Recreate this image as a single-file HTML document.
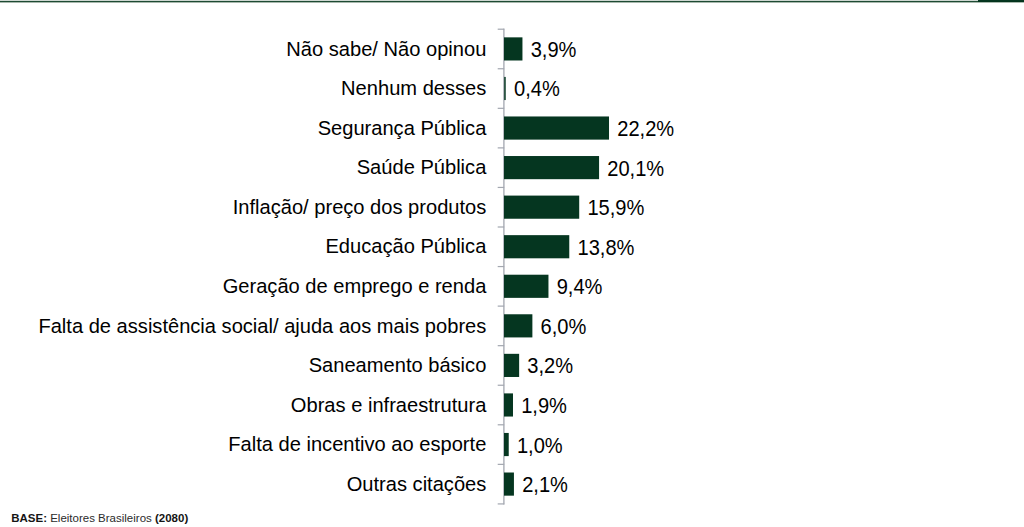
<!DOCTYPE html>
<html><head><meta charset="utf-8"><style>
html,body{margin:0;padding:0;}
body{width:1024px;height:527px;overflow:hidden;background:#fff;position:relative;font-family:"Liberation Sans",sans-serif;color:#000;}
svg{position:absolute;left:0;top:0;}
.lab,.val{position:absolute;font-size:20.1px;line-height:20px;white-space:nowrap;}
.val{transform:scaleY(1.07);transform-origin:0 17.0px;}
.lab{right:537.70px;text-align:right;transform:scaleY(1.0);transform-origin:100% 17.0px;}
.foot{position:absolute;left:11.2px;top:512.40px;font-size:11.5px;line-height:12px;white-space:nowrap;color:#2b2b2b;transform:scaleY(0.97);transform-origin:0 9.8px;}
.foot b{color:#151515;}
</style></head><body>
<svg width="1024" height="527" viewBox="0 0 1024 527">
<rect x="0" y="0" width="978" height="1" fill="#cfd8d2"/>
<rect x="978" y="0" width="46" height="1" fill="#053620"/>
<rect x="0" y="1" width="978" height="1" fill="#1d4b33"/>
<rect x="978" y="1" width="46" height="1" fill="#03331c"/>
<rect x="0" y="2" width="1024" height="1" fill="#a8b8ad"/>
<rect x="503.25" y="28.60" width="1.3" height="475.92" fill="#a3a7b0"/><rect x="497.7" y="28.60" width="6.5" height="1.2" fill="#a3a7b0"/><rect x="497.7" y="68.16" width="6.5" height="1.2" fill="#a3a7b0"/><rect x="497.7" y="107.72" width="6.5" height="1.2" fill="#a3a7b0"/><rect x="497.7" y="147.28" width="6.5" height="1.2" fill="#a3a7b0"/><rect x="497.7" y="186.84" width="6.5" height="1.2" fill="#a3a7b0"/><rect x="497.7" y="226.40" width="6.5" height="1.2" fill="#a3a7b0"/><rect x="497.7" y="265.96" width="6.5" height="1.2" fill="#a3a7b0"/><rect x="497.7" y="305.52" width="6.5" height="1.2" fill="#a3a7b0"/><rect x="497.7" y="345.08" width="6.5" height="1.2" fill="#a3a7b0"/><rect x="497.7" y="384.64" width="6.5" height="1.2" fill="#a3a7b0"/><rect x="497.7" y="424.20" width="6.5" height="1.2" fill="#a3a7b0"/><rect x="497.7" y="463.76" width="6.5" height="1.2" fill="#a3a7b0"/><rect x="497.7" y="503.32" width="6.5" height="1.2" fill="#a3a7b0"/><rect x="504.0" y="37.35" width="18.45" height="23.15" fill="#053620"/><rect x="504.0" y="76.91" width="1.89" height="23.15" fill="#053620" fill-opacity="0.8"/><rect x="504.0" y="116.47" width="105.01" height="23.15" fill="#053620"/><rect x="504.0" y="156.03" width="95.07" height="23.15" fill="#053620"/><rect x="504.0" y="195.59" width="75.21" height="23.15" fill="#053620"/><rect x="504.0" y="235.15" width="65.27" height="23.15" fill="#053620"/><rect x="504.0" y="274.71" width="44.46" height="23.15" fill="#053620"/><rect x="504.0" y="314.27" width="28.38" height="23.15" fill="#053620"/><rect x="504.0" y="353.83" width="15.14" height="23.15" fill="#053620"/><rect x="504.0" y="393.39" width="8.99" height="23.15" fill="#053620"/><rect x="504.0" y="432.95" width="4.73" height="23.15" fill="#053620"/><rect x="504.0" y="472.51" width="9.93" height="23.15" fill="#053620"/>
</svg>
<div class="lab" style="top:38.60px">Não sabe/ Não opinou</div><div class="val" style="top:39.90px;left:530.65px">3,9%</div><div class="lab" style="top:78.16px">Nenhum desses</div><div class="val" style="top:79.46px;left:514.09px">0,4%</div><div class="lab" style="top:117.72px">Segurança Pública</div><div class="val" style="top:119.02px;left:617.21px">22,2%</div><div class="lab" style="top:157.28px">Saúde Pública</div><div class="val" style="top:158.58px;left:607.27px">20,1%</div><div class="lab" style="top:196.84px">Inflação/ preço dos produtos</div><div class="val" style="top:198.14px;left:587.41px">15,9%</div><div class="lab" style="top:236.40px">Educação Pública</div><div class="val" style="top:237.70px;left:577.47px">13,8%</div><div class="lab" style="top:275.96px">Geração de emprego e renda</div><div class="val" style="top:277.26px;left:556.66px">9,4%</div><div class="lab" style="top:315.52px">Falta de assistência social/ ajuda aos mais pobres</div><div class="val" style="top:316.82px;left:540.58px">6,0%</div><div class="lab" style="top:355.08px">Saneamento básico</div><div class="val" style="top:356.38px;left:527.34px">3,2%</div><div class="lab" style="top:394.64px">Obras e infraestrutura</div><div class="val" style="top:395.94px;left:521.19px">1,9%</div><div class="lab" style="top:434.20px">Falta de incentivo ao esporte</div><div class="val" style="top:435.50px;left:516.93px">1,0%</div><div class="lab" style="top:473.76px">Outras citações</div><div class="val" style="top:475.06px;left:522.13px">2,1%</div>
<div class="foot"><b>BASE:</b> Eleitores Brasileiros <b>(2080)</b></div>
</body></html>
